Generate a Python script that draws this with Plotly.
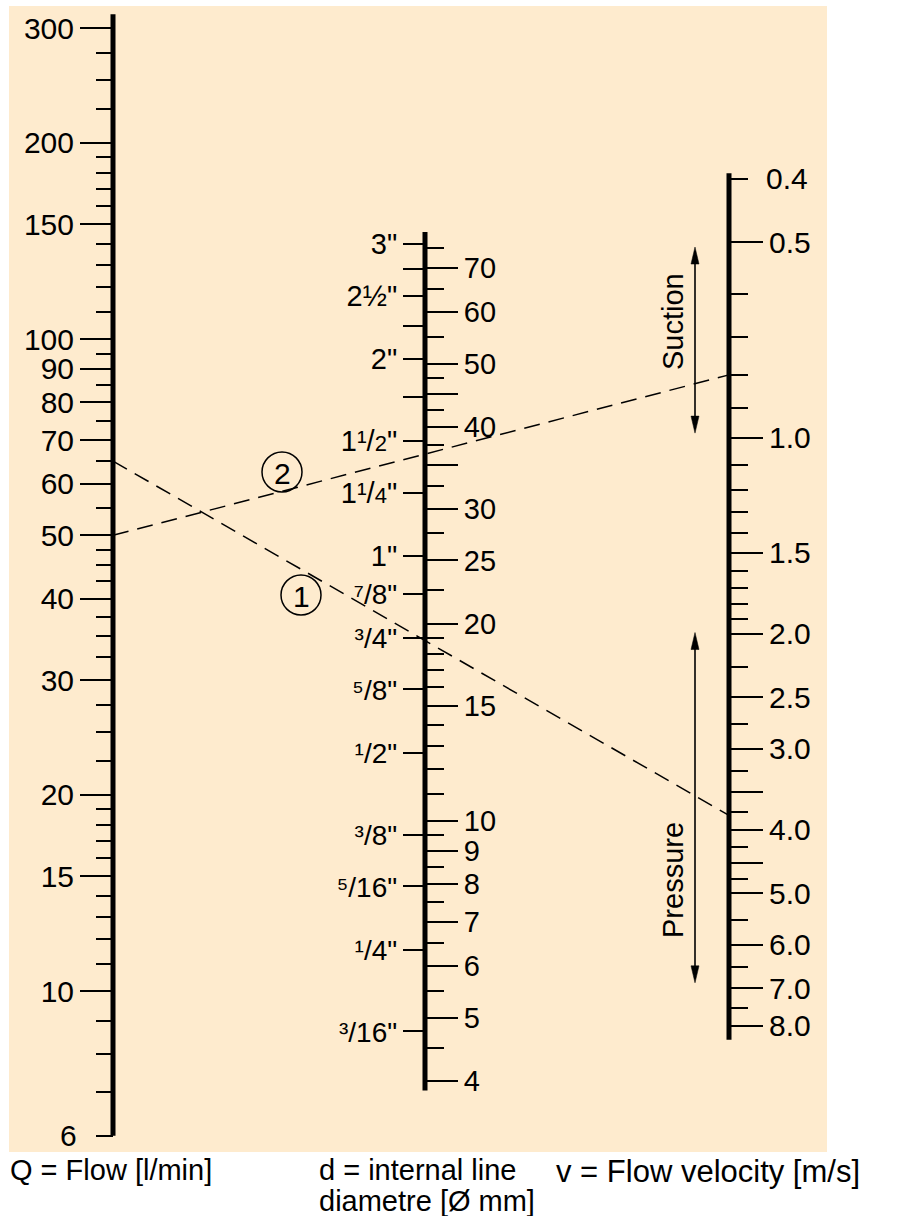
import math
import plotly.graph_objects as go

W, H = 898, 1216
FONT = "Liberation Sans, Arial, Helvetica, sans-serif"

# ---------------- data ----------------
# Q = flow [l/min]
q_major = [300, 200, 150, 100, 90, 80, 70, 60, 50, 40, 30, 20, 15, 10]
q_minor = [275, 250, 225, 190, 180, 170, 160, 140, 130, 120, 110, 95, 85, 75,
           65, 55, 47.5, 45, 42.5, 37.5, 35, 32.5, 27.5, 25, 22.5, 19, 18, 17,
           16, 14, 13, 12, 11, 9, 8, 7, 6]
q_end_label = 6
q_span = [6, 315]

# d = internal line diameter [mm] and inch equivalents
d_mm_major = [70, 60, 50, 40, 30, 25, 20, 15, 10, 9, 8, 7, 6, 5, 4]
d_mm_long = [45, 35]
d_mm_minor = [75, 65, 55, 47.5, 42.5, 37.5, 32.5, 27.5, 22.5, 19, 18, 17, 16,
              14, 13, 12, 11, 9.5, 8.5, 7.5, 6.5, 5.5, 4.5]
d_inch = [3, 2.5, 2, 1.5, 1.25, 1, 0.875, 0.75, 0.625, 0.5,
          0.375, 0.3125, 0.25, 0.1875]
d_inch_plain = [2.75, 2.25, 1.75]
FR = "<span style='font-size:28px'>%s/%s\"</span>"
d_inch_text = [
    '3"', '2½"', '2"',
    "1¹/<span style='font-size:22px'>2</span>\"",
    "1¹/<span style='font-size:22px'>4</span>\"",
    '1"',
    FR % ("⁷", "8"), FR % ("³", "4"), FR % ("⁵", "8"), FR % ("¹", "2"),
    FR % ("³", "8"), FR % ("⁵", "16"), FR % ("¹", "4"), FR % ("³", "16"),
]
MM_PER_INCH = 25.4
d_span = [3.87, 79.5]

# v = flow velocity [m/s]
v_major = [0.5, 1.0, 1.5, 2.0, 2.5, 3.0, 4.0, 5.0, 6.0, 7.0, 8.0]
v_long = [3.5, 4.5]
v_minor = [0.4, 0.6, 0.7, 0.8, 0.9, 1.1, 1.2, 1.3, 1.4, 1.6, 1.7, 1.8, 1.9,
           2.25, 2.75, 3.25, 3.75, 4.25, 4.75, 5.5, 6.5, 7.5]
v_end_label = 0.4
v_span = [0.392, 8.4]

# worked examples (Q on left scale -> v on right scale)
ex_labels = ["1", "2"]
ex_q = [65, 50]
ex_v = [3.8, 0.8]

suction_v = [0.509, 0.983]
pressure_v = [1.99, 6.87]

# ---------------- layout constants ----------------
XQ, XD, XV = 113, 425, 729
XARROW = 695
HEAD_L, HEAD_W = 17, 4
# calibration: (value, pixel, px per decade)
Q_CAL = (300, 28, 652)
D_CAL = (4, 1081, 654)
V_CAL = (0.5, 242, 651)


def up_range(cal):
    a, pa, s = cal
    la = math.log10(a)
    return [la + (pa - H) / s, la + pa / s]


def down_range(cal):
    a, pa, s = cal
    la = math.log10(a)
    return [la + (H - pa) / s, la - pa / s]


q_rng = up_range(Q_CAL)
d_rng = up_range(D_CAL)
v_rng = down_range(V_CAL)


def px(val, rng):
    f = (math.log10(val) - rng[0]) / (rng[1] - rng[0])
    return H * (1 - f)


fig = go.Figure()

# spines (visible)
for xs, span, ya in [(XQ, q_span, "y2"), (XD, d_span, "y4"), (XV, v_span, "y5")]:
    fig.add_trace(go.Scatter(x=[xs, xs], y=span, yaxis=ya, mode="lines",
                             line=dict(color="black", width=5), hoverinfo="skip"))
# invisible carrier traces so every overlay tick axis gets drawn
for xs, span, ya in [(XD, d_span, "y3"), (XQ, q_span, "y6"), (XD, d_span, "y7"),
                     (XV, v_span, "y8"), (XD, d_span, "y9"), (XD, d_span, "y10"),
                     (XV, v_span, "y11")]:
    fig.add_trace(go.Scatter(x=[xs, xs], y=span, yaxis=ya, mode="lines",
                             line=dict(color="rgba(0,0,0,0)", width=1),
                             hoverinfo="skip"))

# example construction lines
for q, v in zip(ex_q, ex_v):
    fig.add_trace(go.Scatter(x=[XQ, XV], y=[px(q, q_rng), px(v, v_rng)],
                             yaxis="y", mode="lines",
                             line=dict(color="black", width=1.5, dash="16px,9px"),
                             hoverinfo="skip"))

# suction / pressure double arrows
for rv in (suction_v, pressure_v):
    pt, pb = px(rv[0], v_rng), px(rv[1], v_rng)
    fig.add_trace(go.Scatter(x=[XARROW, XARROW], y=[pt + 6, pb - 6], yaxis="y",
                             mode="lines", line=dict(color="black", width=1.6),
                             hoverinfo="skip"))
    for tip, d in ((pt, 1), (pb, -1)):
        fig.add_trace(go.Scatter(
            x=[XARROW - HEAD_W, XARROW, XARROW + HEAD_W, XARROW - HEAD_W],
            y=[tip + d * HEAD_L, tip, tip + d * HEAD_L, tip + d * HEAD_L],
            yaxis="y", mode="lines", fill="toself", fillcolor="black",
            line=dict(color="black", width=0.5), hoverinfo="skip"))


def log_axis(rng, xpos, side, vals, text, ticklen, size=12):
    ax = dict(type="log", anchor="free", overlaying="y", showgrid=False,
              zeroline=False, showline=False, ticks="outside",
              tickcolor="black", tickwidth=2, tickmode="array",
              range=rng, position=xpos / W, side=side, tickvals=vals,
              ticklen=ticklen, fixedrange=True,
              tickfont=dict(family=FONT, size=size, color="black"))
    if text is None:
        ax["showticklabels"] = False
    else:
        ax["ticktext"] = text
    return ax


layout = dict(
    width=W, height=H, margin=dict(l=0, r=0, t=0, b=0),
    paper_bgcolor="white", plot_bgcolor="rgba(0,0,0,0)",
    showlegend=False,
    xaxis=dict(range=[0, W], visible=False, fixedrange=True),
    yaxis=dict(range=[H, 0], visible=False, fixedrange=True),
    yaxis2=log_axis(q_rng, XQ, "left", q_major, [str(v) for v in q_major], 33, 30),
    yaxis3=log_axis(d_rng, XD, "left", [i * MM_PER_INCH for i in d_inch],
                    d_inch_text, 22, 29),
    yaxis4=log_axis(d_rng, XD, "right", d_mm_major, [str(v) for v in d_mm_major],
                    32, 29),
    yaxis5=log_axis(v_rng, XV, "right", v_major, ["%.1f" % v for v in v_major],
                    33, 30),
    yaxis6=log_axis(q_rng, XQ, "left", q_minor, None, 17),
    yaxis7=log_axis(d_rng, XD, "right", d_mm_minor, None, 18),
    yaxis8=log_axis(v_rng, XV, "right", v_minor, None, 18),
    yaxis9=log_axis(d_rng, XD, "left", [i * MM_PER_INCH for i in d_inch_plain],
                    None, 22),
    yaxis10=log_axis(d_rng, XD, "right", d_mm_long, None, 32),
    yaxis11=log_axis(v_rng, XV, "right", v_long, None, 33),
)
fig.update_layout(**layout)

shapes = [
    dict(type="rect", xref="x", yref="y", x0=9, x1=827, y0=6, y1=1152,
         fillcolor="#FEEBCE", line=dict(width=0), layer="below"),
]
circle_pos = [(301, 595), (282, 472)]
for cx, cy in circle_pos:
    shapes.append(dict(type="circle", xref="x", yref="y", x0=cx - 20, x1=cx + 20,
                       y0=cy - 20, y1=cy + 20, line=dict(color="black", width=1.5)))
fig.update_layout(shapes=shapes)

ann = []
for (cx, cy), lab in zip(circle_pos, ex_labels):
    ann.append(dict(x=cx, y=cy + 1, xref="x", yref="y", text=lab, showarrow=False,
                    font=dict(family=FONT, size=30, color="black")))
# end labels that sit on short ticks
ann.append(dict(x=79, y=math.log10(q_end_label), xref="x", yref="y2",
                text=str(q_end_label), showarrow=False, xanchor="right",
                font=dict(family=FONT, size=30, color="black")))
ann.append(dict(x=764, y=math.log10(v_end_label), xref="x", yref="y5",
                text=str(v_end_label), showarrow=False, xanchor="left",
                font=dict(family=FONT, size=30, color="black")))
for label, ly in [("Suction", 322), ("Pressure", 880)]:
    ann.append(dict(x=673, y=ly, xref="x", yref="y", text=label, textangle=-90,
                    showarrow=False, font=dict(family=FONT, size=29, color="black")))
# scale titles
TF = dict(family=FONT, size=29, color="black")
ann.append(dict(x=8, y=1170, xref="x", yref="y", text="Q = Flow [l/min]",
                showarrow=False, xanchor="left", font=TF))
ann.append(dict(x=317, y=1170, xref="x", yref="y", text="d = internal line",
                showarrow=False, xanchor="left", font=TF))
ann.append(dict(x=317, y=1201, xref="x", yref="y", text="diametre [Ø mm]",
                showarrow=False, xanchor="left", font=TF))
ann.append(dict(x=554, y=1171, xref="x", yref="y", text="v = Flow velocity [m/s]",
                showarrow=False, xanchor="left",
                font=dict(family=FONT, size=31, color="black")))
fig.update_layout(annotations=ann)

fig.write_html("out.html",
               config={"displayModeBar": False},
               post_script="document.body.style.margin='0';"
                           "document.body.style.overflow='hidden';")
